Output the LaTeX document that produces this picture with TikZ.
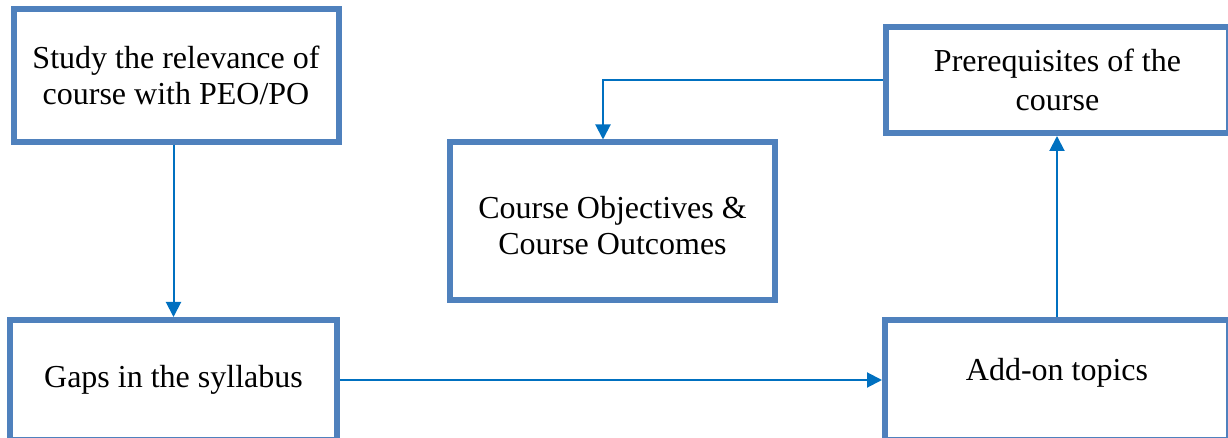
\documentclass[tikz,border=0pt]{standalone}
\usepackage{fontspec}
\setmainfont{Liberation Serif}
\usetikzlibrary{arrows.meta,calc}
\definecolor{boxblue}{HTML}{4F81BD}
\definecolor{flowblue}{HTML}{0070C0}
\begin{document}
\begin{tikzpicture}[x=0.5pt,y=-0.5pt,
    box/.style={draw=boxblue,line width=3pt,fill=white,inner sep=0pt,align=center,
      font=\fontsize{16}{18}\selectfont},
    flow/.style={draw=flowblue,line width=1pt,-{Triangle[length=7.5pt,width=7.5pt]}}]
    \useasboundingbox (0,0) rectangle (1228,438);
    \clip (0,0) rectangle (1228,438);
    \node[box,minimum width=162.5pt,minimum height=66.25pt] (relevance) at (176,75.75)
      {Study the relevance of\\course with PEO/PO};
    \node[box,minimum width=163.5pt,minimum height=60pt] (gaps) at (173.5,380)
      {Gaps in the syllabus};
    \node[box,minimum width=162.5pt,minimum height=78.75pt] (outcomes) at (612.5,221.25)
      {\raisebox{-2pt}[\height][\depth]{\parbox{160pt}{\centering Course Objectives \&\\Course Outcomes}}};
    \node[box,minimum width=171.5pt,minimum height=53pt,font=\fontsize{16}{19.5}\selectfont] (prereq) at (1057.5,80)
      {Prerequisites of the\\course};
    \node[box,minimum width=172pt,minimum height=60pt] (addon) at (1057,380)
      {\raisebox{3.5pt}[\height][\depth]{Add-on topics}};
    \draw[flow] (relevance.south -| gaps.north) -- (gaps.north);
    \draw[flow] (gaps) -- (addon);
    \draw[flow] (addon.north) -- (prereq.south -| addon.north);
    \draw[flow] (prereq.west) -| ($(outcomes.north)+(-9.5,0)$);
\end{tikzpicture}
\end{document}
